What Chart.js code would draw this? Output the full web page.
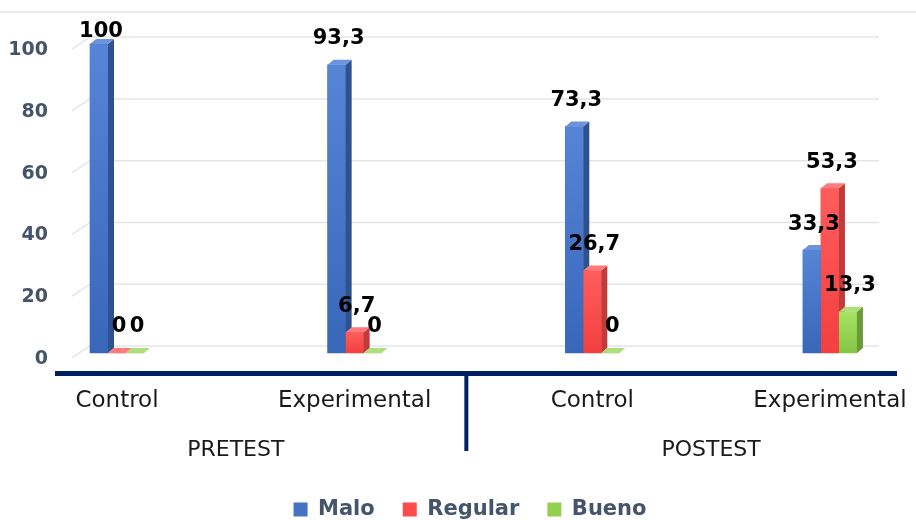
<!DOCTYPE html>
<html>
<head>
<meta charset="utf-8">
<script src="https://cdn.jsdelivr.net/npm/chart.js@4"></script>
<style>
  html, body { margin: 0; padding: 0; background: #ffffff; }
  #wrap { width: 916px; height: 520px; position: relative; }
</style>
</head>
<body>
<div id="wrap"><canvas id="chart"></canvas></div>
<script>
const groups = ['PRETEST', 'POSTEST'];
const subgroups = ['Control', 'Experimental', 'Control', 'Experimental'];
const series = ['Malo', 'Regular', 'Bueno'];
const malo = [100, 93.3, 73.3, 33.3];
const regular = [0, 6.7, 26.7, 53.3];
const bueno = [0, 0, 0, 13.3];
const y_ticks = [0, 20, 40, 60, 80, 100];

// front, side, top colours for each series
const blue = ['#4472c4', '#2f528f', '#6d93da'];
const red = ['#ff4b4b', '#c23a3a', '#ff7a7a'];
const green = ['#92d050', '#6b9a3a', '#addf7c'];
const navy = '#002060';
const slate = '#44546a';

const depth_x = 6;
const depth_y = 5;

function fmt(v) {
    return String(v).replace('.', ',');
}

function shade(hex, amt) {
    const n = parseInt(hex.slice(1), 16);
    let r = (n >> 16) + amt, g = ((n >> 8) & 255) + amt, b = (n & 255) + amt;
    r = Math.max(0, Math.min(255, r)); g = Math.max(0, Math.min(255, g)); b = Math.max(0, Math.min(255, b));
    return 'rgb(' + r + ',' + g + ',' + b + ')';
}

const palette = [blue, red, green];

// gridlines with a little 3D floor stub, plus the top border line
const backGrid = {
    id: 'backGrid',
    beforeDatasetsDraw(chart) {
        const {ctx, chartArea} = chart;
        const yScale = chart.scales.y;
        ctx.save();
        ctx.strokeStyle = '#e2e5ea';
        ctx.lineWidth = 1.5;
        ctx.beginPath();
        ctx.moveTo(0, chartArea.top);
        ctx.lineTo(chart.width, chartArea.top);
        ctx.stroke();
        y_ticks.forEach(v => {
            const py = yScale.getPixelForValue(v);
            ctx.beginPath();
            ctx.moveTo(chartArea.left + 15, py + 5);
            ctx.lineTo(chartArea.left + 33, py - 7);
            ctx.lineTo(chartArea.right - 17, py - 7);
            ctx.stroke();
        });
        ctx.restore();
    }
};

// redraw each bar with a side and top face, in dataset order
const bars3d = {
    id: 'bars3d',
    afterDatasetsDraw(chart) {
        const ctx = chart.ctx;
        ctx.save();
        chart.data.datasets.forEach((ds, d) => {
            const meta = chart.getDatasetMeta(d);
            const c = palette[d];
            meta.data.forEach(el => {
                const {x, y, base, width} = el.getProps(['x', 'y', 'base', 'width'], true);
                const l = x - width / 2, r = x + width / 2;
                if (base - y > 0.5) {
                    const g = ctx.createLinearGradient(0, y, 0, base);
                    g.addColorStop(0, shade(c[0], 18));
                    g.addColorStop(1, shade(c[0], -12));
                    ctx.fillStyle = g;
                    ctx.fillRect(l, y, width, base - y);
                    ctx.fillStyle = c[1];
                    ctx.beginPath();
                    ctx.moveTo(r, y);
                    ctx.lineTo(r + depth_x, y - depth_y);
                    ctx.lineTo(r + depth_x, base - depth_y);
                    ctx.lineTo(r, base);
                    ctx.closePath();
                    ctx.fill();
                }
                ctx.fillStyle = c[2];
                ctx.beginPath();
                ctx.moveTo(l, y);
                ctx.lineTo(l + depth_x, y - depth_y);
                ctx.lineTo(r + depth_x, y - depth_y);
                ctx.lineTo(r, y);
                ctx.closePath();
                ctx.fill();
            });
        });
        ctx.restore();
    }
};

// value labels, group labels and the separator
const extras = {
    id: 'extras',
    afterDraw(chart) {
        const {ctx, chartArea} = chart;
        const xScale = chart.scales.x;
        ctx.save();
        ctx.font = 'bold 21px "DejaVu Sans"';
        ctx.fillStyle = '#000000';
        ctx.textAlign = 'center';
        ctx.textBaseline = 'middle';
        chart.data.datasets.forEach((ds, d) => {
            const meta = chart.getDatasetMeta(d);
            meta.data.forEach((el, i) => {
                const ly = Math.max(el.y - 26, chartArea.top + 20);
                ctx.fillText(fmt(ds.data[i].y), el.x + 2, ly);
            });
        });

        ctx.strokeStyle = navy;
        ctx.lineWidth = 4;
        const sx = xScale.getPixelForValue(1.47);
        ctx.beginPath();
        ctx.moveTo(sx, chartArea.bottom);
        ctx.lineTo(sx, chartArea.bottom + 78);
        ctx.stroke();

        ctx.font = '22px "DejaVu Sans"';
        ctx.fillStyle = '#1a1a1a';
        groups.forEach((g, k) => {
            const gx = xScale.getPixelForValue(k * 2 + 0.5);
            ctx.fillText(g, gx, chartArea.bottom + 77);
        });
        ctx.restore();
    }
};

const datasets = [malo, regular, bueno].map((vals, d) => ({
    label: series[d],
    data: vals.map((v, i) => ({x: i, y: v})),
    backgroundColor: palette[d][0],
    barThickness: 18,
    borderWidth: 0
}));

const config = {
    type: 'bar',
    data: {datasets: datasets},
    plugins: [backGrid, bars3d, extras],
    options: {
        responsive: true,
        maintainAspectRatio: false,
        animation: false,
        layout: {padding: {top: 12, left: 0, right: -24, bottom: -10}},
        plugins: {
            tooltip: {enabled: false},
            legend: {
                position: 'bottom',
                onClick: (e) => e.stopPropagation(),
                labels: {
                    boxWidth: 14,
                    boxHeight: 14,
                    padding: 28,
                    color: slate,
                    font: {family: '"DejaVu Sans"', size: 21, weight: 'bold'}
                }
            }
        },
        scales: {
            x: {
                type: 'linear',
                offset: false,
                min: -0.2525,
                max: 3.278,
                grid: {display: false, drawTicks: false},
                border: {display: true, color: navy, width: 5},
                afterBuildTicks: (scale) => {
                    scale.ticks = subgroups.map((s, i) => ({value: i}));
                },
                afterFit: (scale) => {
                    scale.height = 98;
                    scale.paddingLeft = 0;
                    scale.paddingRight = 0;
                },
                ticks: {
                    autoSkip: false,
                    maxRotation: 0,
                    padding: 14,
                    color: '#1a1a1a',
                    font: {family: '"DejaVu Sans"', size: 23},
                    callback: (v) => subgroups[v]
                }
            },
            y: {
                min: -6.5,
                max: 110.4,
                grid: {display: false, drawTicks: false},
                border: {display: false},
                afterBuildTicks: (scale) => {
                    scale.ticks = y_ticks.map(v => ({value: v}));
                },
                afterFit: (scale) => {
                    scale.width = 57;
                    scale.paddingTop = 0;
                    scale.paddingBottom = 0;
                },
                ticks: {
                    padding: 9,
                    labelOffset: 6,
                    color: slate,
                    font: {family: '"DejaVu Sans"', size: 19, weight: 'bold'}
                }
            },
            // empty right-hand axis, only keeps the plot clear of the right edge
            yRight: {
                position: 'right',
                display: true,
                grid: {display: false, drawTicks: false},
                border: {display: false},
                ticks: {display: false},
                afterFit: (scale) => {
                    scale.width = 44;
                    scale.paddingTop = 0;
                    scale.paddingBottom = 0;
                }
            }
        }
    }
};

const ctx = document.getElementById('chart');
const chart = new Chart(ctx, config);
</script>
</body>
</html>
